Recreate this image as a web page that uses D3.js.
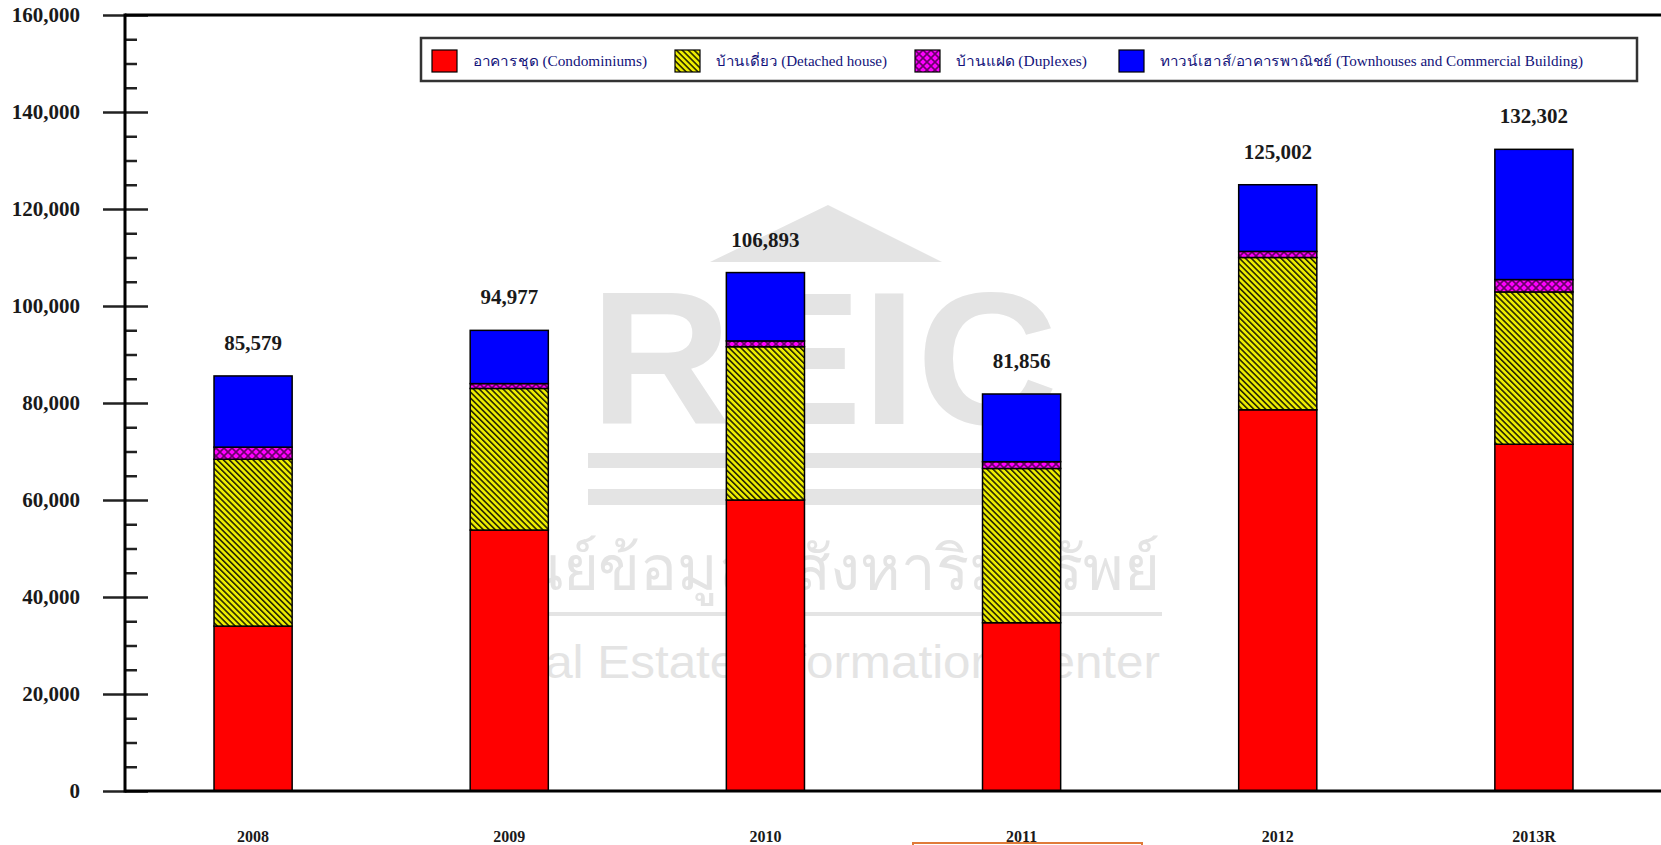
<!DOCTYPE html>
<html>
<head>
<meta charset="utf-8">
<script src="https://cdnjs.cloudflare.com/ajax/libs/d3/7.8.5/d3.min.js"></script>
<style>
  body { margin: 0; background: #fff; }
  svg { display: block; }
</style>
</head>
<body>
<svg id="chart"></svg>
<script>
// data
var years = ["2008", "2009", "2010", "2011", "2012", "2013R"];
var condo = [34000, 53800, 60000, 34700, 78600, 71500];
var detached = [34400, 29200, 31600, 31800, 31400, 31400];
var duplex = [2500, 1000, 1200, 1400, 1250, 2550];
var townhouse = [14679, 10977, 14093, 13956, 13752, 26852];
var totals = [85579, 94977, 106893, 81856, 125002, 132302];
var seriesKeys = ["condo", "detached", "duplex", "townhouse"];
var seriesNames = [
  "อาคารชุด (Condominiums)",
  "บ้านเดี่ยว (Detached house)",
  "บ้านแฝด (Duplexes)",
  "ทาวน์เฮาส์/อาคารพาณิชย์ (Townhouses and Commercial Building)"
];
var yTicks = [0, 20000, 40000, 60000, 80000, 100000, 120000, 140000, 160000];

var width = 1661;
var height = 845;
// note: "top" is taken by window.top, so plot edges get their own names
var plotLeft = 125, plotRight = 1662, plotTop = 15, plotBottom = 791;
var serif = "'Liberation Serif', 'Times New Roman', serif";

var rows = years.map(function(yr, i) {
  return { year: yr, condo: condo[i], detached: detached[i], duplex: duplex[i], townhouse: townhouse[i], total: totals[i] };
});

var svg = d3.select("#chart").attr("width", width).attr("height", height);

var defs = svg.append("defs");
var hatch = defs.append("pattern")
    .attr("id", "hatchYellow")
    .attr("patternUnits", "userSpaceOnUse")
    .attr("width", 4.2).attr("height", 4.2)
    .attr("patternTransform", "rotate(-45)");
hatch.append("rect").attr("width", 4.2).attr("height", 4.2).attr("fill", "#eded00");
hatch.append("line").attr("x1", 0.8).attr("y1", 0).attr("x2", 0.8).attr("y2", 4.2)
    .attr("stroke", "#1a1a00").attr("stroke-width", 1.5);

var cross = defs.append("pattern")
    .attr("id", "crossMagenta")
    .attr("patternUnits", "userSpaceOnUse")
    .attr("width", 8).attr("height", 8);
cross.append("rect").attr("width", 8).attr("height", 8).attr("fill", "#ff00ff");
cross.append("path").attr("d", "M0,0L8,8M8,0L0,8")
    .attr("stroke", "#6a006a").attr("stroke-width", 1.6);

var fills = {
  condo: "#ff0000",
  detached: "url(#hatchYellow)",
  duplex: "url(#crossMagenta)",
  townhouse: "#0000ff"
};

var x = d3.scaleBand()
    .domain(years)
    .range([plotLeft, plotRight])
    .paddingInner(0.695)
    .paddingOuter(0.3475);

var y = d3.scaleLinear()
    .domain([0, 160000])
    .range([plotBottom, plotTop]);

// watermark
var wm = svg.append("g").attr("fill", "#e4e4e4");
wm.append("path").attr("d", "M710,262L828,205L942,262Z");
wm.append("text")
    .attr("x", 590).attr("y", 424)
    .attr("font-family", "'Liberation Sans', Arial, sans-serif")
    .attr("font-weight", "bold")
    .attr("font-size", 190)
    .attr("textLength", 468).attr("lengthAdjust", "spacingAndGlyphs")
    .text("REIC");
wm.append("rect").attr("x", 588).attr("y", 453).attr("width", 471).attr("height", 15);
wm.append("rect").attr("x", 588).attr("y", 489).attr("width", 471).attr("height", 16);
wm.append("text")
    .attr("x", 482).attr("y", 590)
    .attr("font-family", "'Noto Sans', 'DejaVu Sans', sans-serif")
    .attr("font-size", 62)
    .attr("textLength", 678).attr("lengthAdjust", "spacingAndGlyphs")
    .text("ศูนย์ข้อมูลอสังหาริมทรัพย์");
wm.append("rect").attr("x", 482).attr("y", 612).attr("width", 680).attr("height", 4);
wm.append("text")
    .attr("x", 482).attr("y", 678)
    .attr("font-family", "'Liberation Sans', Arial, sans-serif")
    .attr("font-size", 46)
    .attr("textLength", 678).attr("lengthAdjust", "spacingAndGlyphs")
    .text("Real Estate Information Center");

// stacked bars
var stacked = d3.stack().keys(seriesKeys)(rows);

svg.append("g")
  .selectAll("g")
  .data(stacked)
  .enter()
  .append("g")
    .attr("fill", function(d) { return fills[d.key]; })
  .selectAll("rect")
  .data(function(d) { return d; })
  .enter()
  .append("rect")
    .attr("x", function(d) { return x(d.data.year); })
    .attr("y", function(d) { return y(d[1]); })
    .attr("width", x.bandwidth())
    .attr("height", function(d) { return y(d[0]) - y(d[1]); })
    .attr("stroke", "#000")
    .attr("stroke-width", 1.5);

// totals above bars
svg.append("g")
  .selectAll("text")
  .data(rows)
  .enter()
  .append("text")
    .attr("x", function(d) { return x(d.year) + x.bandwidth() / 2; })
    .attr("y", function(d) { return y(d.total) - 26; })
    .attr("text-anchor", "middle")
    .attr("font-family", serif)
    .attr("font-weight", "bold")
    .attr("font-size", 21)
    .attr("fill", "#1a1a1a")
    .text(function(d) { return d3.format(",")(d.total); });

// y axis: major ticks stick out both sides, minor ticks only inside
var minorTicks = d3.range(0, 160001, 5000).filter(function(v) { return v % 20000 !== 0; });

var yAxisOuter = d3.axisLeft(y)
    .tickValues(yTicks)
    .tickSize(22)
    .tickPadding(23)
    .tickFormat(d3.format(","));
var yAxisInner = d3.axisLeft(y).tickValues(yTicks).tickSize(-23).tickFormat("");
var yAxisMinor = d3.axisLeft(y).tickValues(minorTicks).tickSize(-12).tickFormat("");

[yAxisOuter, yAxisInner, yAxisMinor].forEach(function(ax) {
  var g = svg.append("g")
      .attr("transform", "translate(" + plotLeft + ",0)")
      .call(ax);
  g.select(".domain").remove();
  g.selectAll("line").attr("stroke", "#222").attr("stroke-width", 2.5);
  g.selectAll("text")
      .attr("font-family", serif)
      .attr("font-weight", "bold")
      .attr("font-size", 21)
      .attr("fill", "#1a1a1a");
});

// frame lines
svg.append("line").attr("x1", plotLeft).attr("x2", plotLeft).attr("y1", plotTop - 1.5).attr("y2", plotBottom + 1.5)
    .attr("stroke", "#000").attr("stroke-width", 3);
svg.append("line").attr("x1", plotLeft).attr("x2", width).attr("y1", plotTop).attr("y2", plotTop)
    .attr("stroke", "#000").attr("stroke-width", 3);
svg.append("line").attr("x1", plotLeft).attr("x2", width).attr("y1", plotBottom).attr("y2", plotBottom)
    .attr("stroke", "#000").attr("stroke-width", 3);

// x labels
svg.append("g")
  .selectAll("text")
  .data(years)
  .enter()
  .append("text")
    .attr("x", function(d) { return x(d) + x.bandwidth() / 2; })
    .attr("y", 842)
    .attr("text-anchor", "middle")
    .attr("font-family", serif)
    .attr("font-weight", "bold")
    .attr("font-size", 16)
    .attr("fill", "#1a1a1a")
    .text(function(d) { return d; });

// legend
var legendX = [432, 675, 915, 1119];
var legendTextW = [174, 171, 131, 423];
var legend = svg.append("g");
legend.append("rect")
    .attr("x", 421).attr("y", 38).attr("width", 1216).attr("height", 43)
    .attr("fill", "#fff").attr("stroke", "#333").attr("stroke-width", 2.5);

var item = legend.selectAll("g.item")
  .data(seriesKeys)
  .enter()
  .append("g")
    .attr("class", "item")
    .attr("transform", function(d, i) { return "translate(" + legendX[i] + ",50)"; });
item.append("rect")
    .attr("width", 25).attr("height", 22)
    .attr("fill", function(d) { return fills[d]; })
    .attr("stroke", "#000").attr("stroke-width", 1.2);
item.append("text")
    .attr("x", 41).attr("y", 16)
    .attr("font-family", serif)
    .attr("font-size", 14)
    .attr("fill", "#12127a")
    .attr("textLength", function(d, i) { return legendTextW[i]; })
    .attr("lengthAdjust", "spacingAndGlyphs")
    .text(function(d, i) { return seriesNames[i]; });

// orange box edge at the bottom of the picture
svg.append("rect")
    .attr("x", 913).attr("y", 843).attr("width", 229).attr("height", 10)
    .attr("fill", "#fff").attr("stroke", "#e07b39").attr("stroke-width", 2);
</script>
</body>
</html>
